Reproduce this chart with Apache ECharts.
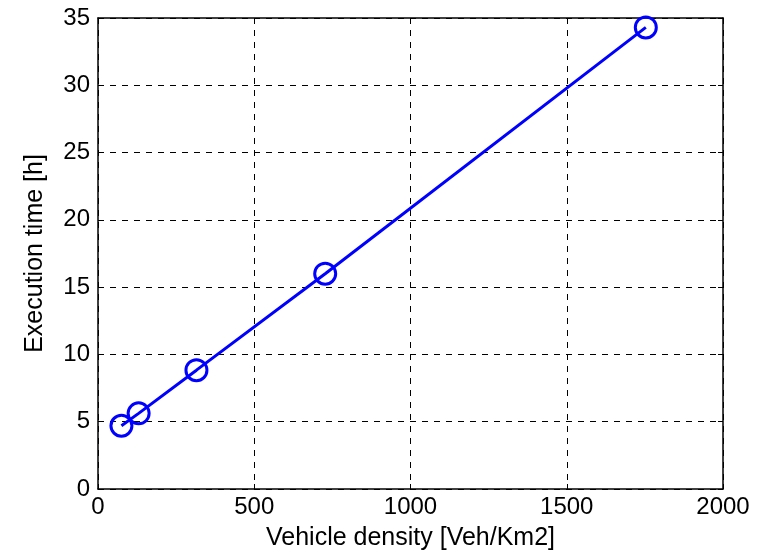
<!DOCTYPE html>
<html>
<head>
<meta charset="utf-8">
<script src="https://cdn.jsdelivr.net/npm/echarts@6/dist/echarts.min.js"></script>
<style>
    html, body { margin: 0; padding: 0; background: #fff; }
    #main { width: 763px; height: 556px; }
</style>
</head>
<body>
<div id="main"></div>
<script>
// data
var density = [75, 130, 315, 727, 1753];
var execTime = [4.7, 5.62, 8.83, 16.0, 34.3];
var xTicks = [0, 500, 1000, 1500, 2000];
var yTicks = [0, 5, 10, 15, 20, 25, 30, 35];

var points = density.map(function (d, i) { return [d, execTime[i]]; });

var font = 'Liberation Sans, Arial, sans-serif';
var gridLine = { show: true, lineStyle: { color: '#000', type: [6, 6], width: 1 } };

// top / right axes just close the box (matlab style)
function boxAxis(pos, isX) {
    return {
        type: 'value',
        position: pos,
        min: 0,
        max: isX ? 2000 : 35,
        interval: isX ? 500 : 5,
        axisLine: { show: true, onZero: false, lineStyle: { color: '#000', width: 1.5 } },
        axisTick: { show: true, inside: true, length: 5, lineStyle: { color: '#000' } },
        axisLabel: { show: false },
        splitLine: { show: false }
    };
}

var myChart = echarts.init(document.getElementById('main'));
var opt = {
    animation: false,
    backgroundColor: '#fff',
    grid: { left: 98, right: 40, top: 18, bottom: 66, containLabel: false },
    xAxis: [
        {
            type: 'value',
            position: 'bottom',
            min: 0, max: 2000, interval: 500,
            name: 'Vehicle density [Veh/Km2]',
            nameLocation: 'middle',
            nameGap: 37,
            nameTextStyle: { fontFamily: font, fontSize: 25, color: '#000' },
            axisLine: { show: true, onZero: false, lineStyle: { color: '#000', width: 1.5 } },
            axisTick: { show: true, inside: true, length: 5, lineStyle: { color: '#000' } },
            axisLabel: {
                fontFamily: font, fontSize: 24, color: '#000', margin: 6,
                formatter: function (v) { return xTicks.indexOf(v) >= 0 ? String(v) : ''; }
            },
            splitLine: gridLine
        },
        boxAxis('top', true)
    ],
    yAxis: [
        {
            type: 'value',
            position: 'left',
            min: 0, max: 35, interval: 5,
            name: 'Execution time [h]',
            nameLocation: 'middle',
            nameGap: 50,
            nameTextStyle: { fontFamily: font, fontSize: 25, color: '#000' },
            axisLine: { show: true, onZero: false, lineStyle: { color: '#000', width: 1.5 } },
            axisTick: { show: true, inside: true, length: 5, lineStyle: { color: '#000' } },
            axisLabel: {
                fontFamily: font, fontSize: 24, color: '#000', margin: 8,
                formatter: function (v) { return yTicks.indexOf(v) >= 0 ? String(v) : ''; }
            },
            splitLine: gridLine
        },
        boxAxis('right', false)
    ],
    series: [{
        type: 'line',
        data: points,
        xAxisIndex: 0,
        yAxisIndex: 0,
        symbol: 'circle',
        symbolSize: 21,
        lineStyle: { color: '#0000ff', width: 3 },
        itemStyle: { color: 'rgba(0,0,0,0)', borderColor: '#0000ff', borderWidth: 3 },
        z: 5
    }]
};
myChart.setOption(opt);
</script>
</body>
</html>
